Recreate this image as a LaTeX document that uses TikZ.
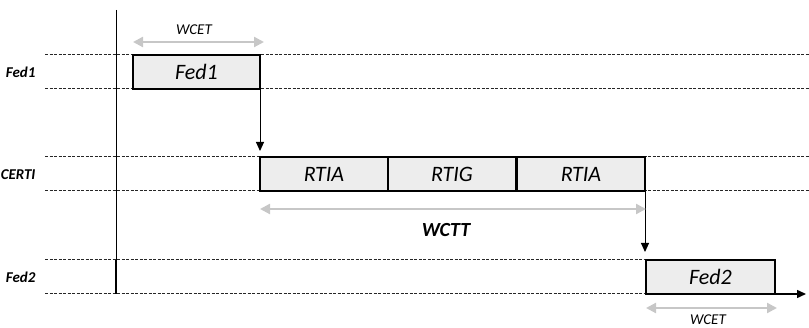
\documentclass[tikz,border=0pt]{standalone}
\usepackage{fontspec}
\setmainfont{Carlito}
\usetikzlibrary{arrows.meta}
\begin{document}
\begin{tikzpicture}[x=1pt,y=-1pt,
  lane/.style={dash pattern=on 3pt off 1.5pt,line width=1pt,black!85},
  task/.style={draw=black,line width=1.6pt,fill=black!7,minimum width=128pt,minimum height=34pt,inner sep=0pt,outer sep=0pt,anchor=north west,font=\fontsize{22}{22}\selectfont\itshape},
  span/.style={black!22,line width=2.2pt,{Triangle[length=10pt,width=10pt]}-{Triangle[length=10pt,width=10pt]}},
  flow/.style={black,line width=1pt,-{Triangle[length=9pt,width=8pt]}},
  lanelabel/.style={anchor=east,font=\fontsize{15}{15}\selectfont\bfseries\itshape},
  spanlabel/.style={font=\fontsize{15}{15}\selectfont\itshape}]
\useasboundingbox (0,0) rectangle (809,328);

% lane boundaries
\draw[lane] (45,55) -- (809,55);
\draw[lane] (45,89) -- (809,89);
\draw[lane] (45,157) -- (809,157);
\draw[lane] (45,191) -- (809,191);
\draw[lane] (45,260) -- (646,260);
\draw[lane] (45,294) -- (646,294);

% start-time axis
\draw[line width=1pt] (116,10) -- (116,260);
\draw[line width=1.8pt] (116,260) -- (116,294);

% lane names
\node[lanelabel] (l1) at (39,72) {Fed1};
\node[lanelabel] (l2) at (39,175) {CERTI};
\node[lanelabel] (l3) at (39,277) {Fed2};

% tasks
\node[task,minimum width=127pt] (fed1) at (133,55) {Fed1};
\node[task] (rtia1) at (260,157) {RTIA};
\node[task] (rtig) at (388,157) {RTIG};
\node[task] (rtia2) at (517,157) {RTIA};
\node[task,minimum width=129pt] (fed2) at (646,260) {Fed2};

% time axis continuation
\coordinate (tend) at (806,294);
\draw[flow,line width=1.5pt] (fed2.south east) -- (tend);

% transfers
\draw[flow] (fed1.south east) -- ([yshift=6pt]fed1.south east |- rtia1.north);
\draw[flow] (rtia2.south east) -- ([yshift=8pt]rtia2.south east |- fed2.north);

% spans
\coordinate (w1a) at (133,42);
\coordinate (w1b) at (264,42);
\draw[span] (w1a) -- (w1b);
\node[spanlabel] (wcet1) at (194,30) {WCET};

\coordinate (tta) at (260,209);
\coordinate (ttb) at (646,209);
\draw[span] (tta) -- (ttb);
\node[font=\fontsize{20}{20}\selectfont\bfseries\itshape] (wctt) at (446,230) {WCTT};

\coordinate (w2a) at (646,308);
\coordinate (w2b) at (777,308);
\draw[span] (w2a) -- (w2b);
\node[spanlabel,inner sep=1pt] (wcet2) at (708,320) {WCET};
\end{tikzpicture}
\end{document}
